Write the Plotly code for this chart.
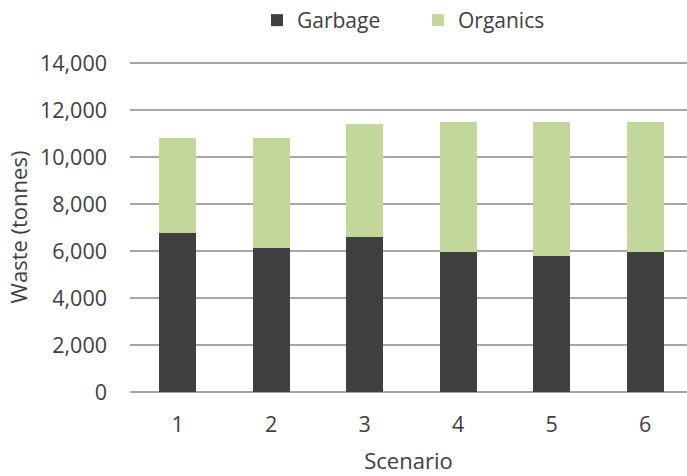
import plotly.graph_objects as go

scenarios = [1, 2, 3, 4, 5, 6]
garbage = [6770, 6140, 6600, 5960, 5800, 5960]
totals = [10830, 10830, 11400, 11490, 11490, 11490]
organics = [t - g for t, g in zip(totals, garbage)]

y_ticks = [0, 2000, 4000, 6000, 8000, 10000, 12000, 14000]
y_tick_text = [f"{v:,}" for v in y_ticks]

font_family = "Open Sans, Noto Sans, DejaVu Sans, sans-serif"
text_color = "#404040"
grid_color = "#a6a6a6"

fig = go.Figure()
fig.add_trace(go.Bar(
    x=scenarios, y=garbage, name="Garbage",
    marker=dict(color="#404040", line=dict(width=0)),
    width=0.396,
))
fig.add_trace(go.Bar(
    x=scenarios, y=organics, name="Organics",
    marker=dict(color="#c4d79b", line=dict(width=0)),
    width=0.396,
))

fig.update_layout(
    barmode="stack",
    width=687, height=476,
    margin=dict(l=130, r=0, t=62, b=84),
    paper_bgcolor="white",
    plot_bgcolor="white",
    font=dict(family=font_family, size=21.5, color=text_color),
    legend=dict(
        orientation="h",
        xref="container", yref="container",
        x=257 / 687, y=1 - 0 / 476,
        xanchor="left", yanchor="top",
        font=dict(size=21, color=text_color),
        itemwidth=30,
        entrywidth=116,
        traceorder="normal",
    ),
    xaxis=dict(
        range=[0.492, 6.447],
        tickvals=scenarios,
        ticktext=[str(s) for s in scenarios],
        showgrid=False,
        zeroline=False,
        showline=False,
        ticks="",
        ticklabelstandoff=17,
        title=dict(text="Scenario", standoff=17, font=dict(size=22)),
    ),
    yaxis=dict(
        range=[0, 14050],
        tickvals=y_ticks,
        ticktext=y_tick_text,
        showgrid=True,
        gridcolor=grid_color,
        gridwidth=1.5,
        zeroline=True,
        zerolinecolor=grid_color,
        zerolinewidth=1.5,
        ticks="",
        ticklabelstandoff=22,
        title=dict(text="Waste (tonnes)", standoff=6, font=dict(size=22)),
    ),
)

fig.write_html("out.html")
